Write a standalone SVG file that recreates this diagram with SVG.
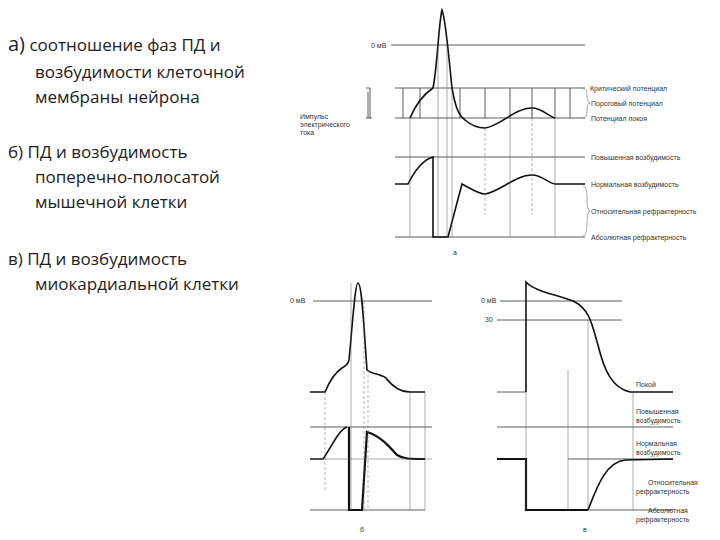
<svg xmlns="http://www.w3.org/2000/svg" width="720" height="540" viewBox="0 0 720 540">
<style>
.t{font-family:"Open Sans","Liberation Sans",sans-serif;font-size:17px;fill:#222}
.s{font-family:"Liberation Sans",sans-serif;font-size:7px;fill:#333}
.ln{stroke:#333;stroke-width:0.8;fill:none}
.th{stroke:#555;stroke-width:0.5;fill:none}
.dz{stroke:#666;stroke-width:0.5;fill:none;stroke-dasharray:3 2}
.cv{stroke:#111;stroke-width:1.6;fill:none}
.bk{stroke:#111;stroke-width:2.2;fill:none}
</style>
<rect width="720" height="540" fill="#fff"/>
<g id="text-left">
<text class="t" x="8" y="51"><tspan font-size="20">а)</tspan> соотношение фаз ПД и</text>
<text class="t" x="35" y="78">возбудимости клеточной</text>
<text class="t" x="35" y="103">мембраны нейрона</text>
<text class="t" x="8" y="158">б) ПД и возбудимость</text>
<text class="t" x="35" y="183">поперечно-полосатой</text>
<text class="t" x="35" y="208">мышечной клетки</text>
<text class="t" x="8" y="265">в) ПД и возбудимость</text>
<text class="t" x="35" y="290">миокардиальной клетки</text>
</g>
<g id="diagram-a">
<text class="s" x="371" y="48">0 мВ</text>
<line class="ln" x1="391" y1="45" x2="585" y2="45"/>
<line class="ln" x1="395" y1="88" x2="585" y2="88"/>
<line class="ln" x1="395" y1="118" x2="585" y2="118"/>
<g class="ln" stroke-width="1.2">
<line x1="403" y1="88" x2="403" y2="118"/><line x1="420" y1="88" x2="420" y2="118"/>
<line x1="460" y1="88" x2="460" y2="118"/><line x1="485" y1="88" x2="485" y2="118"/>
<line x1="510" y1="88" x2="510" y2="118"/><line x1="532" y1="88" x2="532" y2="118"/>
<line x1="555" y1="88" x2="555" y2="118"/><line x1="570" y1="88" x2="570" y2="118"/>
</g>
<path class="ln" d="M370,88 L370,118 M366,88 L370,88 M366,118 L372,118 M368,118 L368,92"/>
<text class="s" x="300" y="119">Импульс</text>
<text class="s" x="300" y="127">электрического</text>
<text class="s" x="300" y="135">тока</text>
<path class="cv" d="M410,118 C416,104 424,94 433,88 C437,70 439,20 442,10 C446,20 450,70 452,88 C455,105 458,115 465,120 C472,126 478,128 485,128 C500,126 515,108 532,108 C542,108 548,116 555,118"/>
<line class="ln" x1="395" y1="157" x2="585" y2="157"/>
<line class="ln" x1="395" y1="237" x2="585" y2="237"/>
<path class="cv" d="M395,184 L408,184 C414,172 422,160 433,157 L433,237 L448,237 L462,184 C470,188 478,194 485,194 C500,192 515,175 532,175 C542,175 548,183 555,184 L585,184"/>
<g class="th">
<line x1="410" y1="118" x2="410" y2="237"/><line x1="438" y1="45" x2="438" y2="237"/>
<line x1="447" y1="45" x2="447" y2="237"/><line x1="452" y1="88" x2="452" y2="237"/>
<line x1="510" y1="118" x2="510" y2="237"/><line x1="555" y1="118" x2="555" y2="237"/>
</g>
<g class="dz"><line x1="485" y1="128" x2="485" y2="215"/><line x1="532" y1="108" x2="532" y2="215"/></g>
<path class="th" d="M583,88 Q587,88 587,95 Q587,103 590,103 Q587,103 587,111 Q587,118 583,118"/>
<path class="th" d="M583,186 Q587,186 587,198 Q587,211 590,211 Q587,211 587,224 Q587,236 583,236"/>
<text class="s" x="590" y="91">Критический потенциал</text>
<text class="s" x="591" y="106">Пороговый потенциал</text>
<text class="s" x="591" y="121">Потенциал покоя</text>
<text class="s" x="591" y="160">Повышенная возбудимость</text>
<text class="s" x="591" y="187">Нормальная возбудимость</text>
<text class="s" x="591" y="214">Относительная рефрактерность</text>
<text class="s" x="591" y="240">Абсолютная рефрактерность</text>
<text class="s" x="453" y="255">а</text>
</g>
<g id="diagram-b">
<text class="s" x="290" y="303">0 мВ</text>
<line class="ln" x1="313" y1="301" x2="432" y2="301"/>
<path class="cv" d="M310,392 L325,392 C330,380 336,372 342,368 C346,366 348,364 349,360 C352,330 355,283 358,283 C362,283 364,330 367,370 C372,374 380,374 386,378 C392,386 400,392 410,392 L425,392"/>
<line class="ln" x1="310" y1="427" x2="432" y2="427"/>
<line class="ln" x1="310" y1="510" x2="425" y2="510"/>
<path class="cv" d="M310,459 L323,459 C330,450 338,430 347,427"/>
<path class="bk" d="M349,427 L349,510 L362,510 L367,432 C380,436 388,445 397,455 C403,459 410,459 425,459"/>
<line class="th" x1="310" y1="459" x2="432" y2="459"/>
<g class="th">
<line x1="351" y1="283" x2="351" y2="510"/><line x1="410" y1="392" x2="410" y2="510"/>
<line x1="425" y1="392" x2="425" y2="510"/>
</g>
<g class="dz"><line x1="325" y1="392" x2="325" y2="490"/><line x1="364" y1="301" x2="364" y2="510"/><line x1="368" y1="370" x2="368" y2="510"/></g>
<text class="s" x="360" y="532">б</text>
</g>
<g id="diagram-c">
<text class="s" x="481" y="303">0 мВ</text>
<line class="ln" x1="500" y1="301" x2="622" y2="301"/>
<text class="s" x="485" y="322">30</text>
<line class="ln" x1="497" y1="320" x2="622" y2="320"/>
<line class="ln" x1="497" y1="392" x2="526" y2="392"/>
<path class="cv" d="M526,392 L526,282 C535,292 560,295 575,302 C590,310 592,325 598,345 C604,370 612,388 630,392 L673,392"/>
<line class="ln" x1="497" y1="427" x2="673" y2="427"/>
<line class="ln" x1="568" y1="459" x2="673" y2="459"/>
<path class="bk" d="M497,459 L526,459 L526,510 L588,510"/>
<path class="cv" d="M588,510 C596,490 605,462 625,460 L673,459"/>
<line class="ln" x1="588" y1="510" x2="673" y2="510"/>
<g class="th">
<line x1="526" y1="392" x2="526" y2="510"/><line x1="568" y1="370" x2="568" y2="510"/>
<line x1="588" y1="320" x2="588" y2="510"/><line x1="633" y1="392" x2="633" y2="510"/>
</g>
<text class="s" x="636" y="387">Покой</text>
<text class="s" x="636" y="414">Повышенная</text>
<text class="s" x="636" y="423">возбудимость</text>
<text class="s" x="636" y="446">Нормальная</text>
<text class="s" x="636" y="455">возбудимость</text>
<text class="s" x="648" y="485">Относительная</text>
<text class="s" x="636" y="494">рефрактерность</text>
<text class="s" x="648" y="513">Абсолютная</text>
<text class="s" x="636" y="522">рефрактерность</text>
<text class="s" x="583" y="532">в</text>
</g>
</svg>
